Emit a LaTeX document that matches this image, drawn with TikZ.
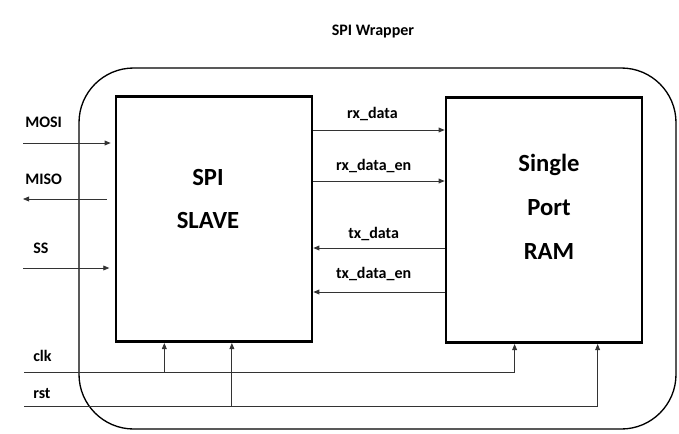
\documentclass[tikz,border=0pt]{standalone}
\usepackage{fontspec}
\setmainfont{Carlito}
\usetikzlibrary{arrows.meta, calc, positioning}

\begin{document}
\begin{tikzpicture}[x=0.75pt, y=-0.75pt, >={Triangle[length=4.5pt,width=3.6pt]},
        block/.style={draw, line width=2pt, minimum width=147pt, minimum height=184pt, inner sep=0pt},
        sig/.style={line width=0.6pt, black!80},
        lbl/.style={font=\bfseries\fontsize{12}{14}\selectfont, inner sep=0pt, anchor=base west, black},
        bus/.style={font=\bfseries\fontsize{12}{14}\selectfont, inner sep=0pt, anchor=base, black},
        big/.style={font=\bfseries\fontsize{18.5}{22}\selectfont, inner sep=0pt, anchor=base}]
        \useasboundingbox (0,0) rectangle (679,433);

        \node[bus] (title) at (373,35) {SPI Wrapper};
        \node[draw, line width=1pt, rounded corners=41pt, minimum width=447.75pt,
              minimum height=270.75pt] (wrapper) at (377.5,248.5) {};

        \node[block] (slave) at (214,219) {};
        \node[block] (ram) at (544,220) {};

        \node[big] (spit) at ($(slave.north)+(-6,90)$) {SPI};
        \node[big] (slavet) at ($(slave.north)+(-6,133)$) {SLAVE};
        \node[big] (single) at ($(ram.north)+(5,75)$) {Single};
        \node[big] (port) at ($(ram.north)+(5,119)$) {Port};
        \node[big] (ramt) at ($(ram.north)+(5,163)$) {RAM};

        % spi side
        \coordinate (mosi) at (23,143);
        \coordinate (miso) at (23,199);
        \coordinate (ss) at (23,268);
        \node[lbl] (mosil) at (25,127) {MOSI};
        \node[lbl] (misol) at (25,184) {MISO};
        \node[lbl] (ssl) at (33,253) {SS};

        \path[sig, ->]
        (mosi) edge [shorten >=3pt] (slave.west |- mosi)
        (slave.west |- miso) edge [shorten <=6pt] (miso)
        (ss) edge [shorten >=4pt] (slave.west |- ss);

        % between the blocks
        \path[sig, ->]
        (slave.east |- 0,130) edge node[bus, midway, yshift=9pt, xshift=-5pt] {rx\_data} (ram.west |- 0,130)
        (slave.east |- 0,181) edge node[bus, midway, yshift=8.25pt, xshift=-4pt] {rx\_data\_en} (ram.west |- 0,181)
        (ram.west |- 0,248) edge node[bus, midway, yshift=7.5pt, xshift=-4pt] {tx\_data} (slave.east |- 0,248)
        (ram.west |- 0,292) edge node[bus, midway, yshift=10.5pt, xshift=-4pt] {tx\_data\_en} (slave.east |- 0,292);

        % clock and reset
        \coordinate (clk) at (24,372);
        \coordinate (rst) at (24,406);
        \node[lbl] (clkl) at (33,361) {clk};
        \node[lbl] (rstl) at (33,398) {rst};

        \coordinate (sclk) at ($(slave.south west)!0.25!(slave.south east)$);
        \coordinate (srst) at ($(slave.south west)!0.59!(slave.south east)$);
        \coordinate (rclk) at ($(ram.south west)!0.352!(ram.south east)$);
        \coordinate (rrst) at ($(ram.south west)!0.77!(ram.south east)$);

        \draw[sig, ->] (clk) -| (rclk);
        \draw[sig, ->] (rst) -| (rrst);
        \draw[sig, ->] (sclk |- clk) -- (sclk);
        \draw[sig, ->] (srst |- rst) -- (srst);
\end{tikzpicture}
\end{document}
